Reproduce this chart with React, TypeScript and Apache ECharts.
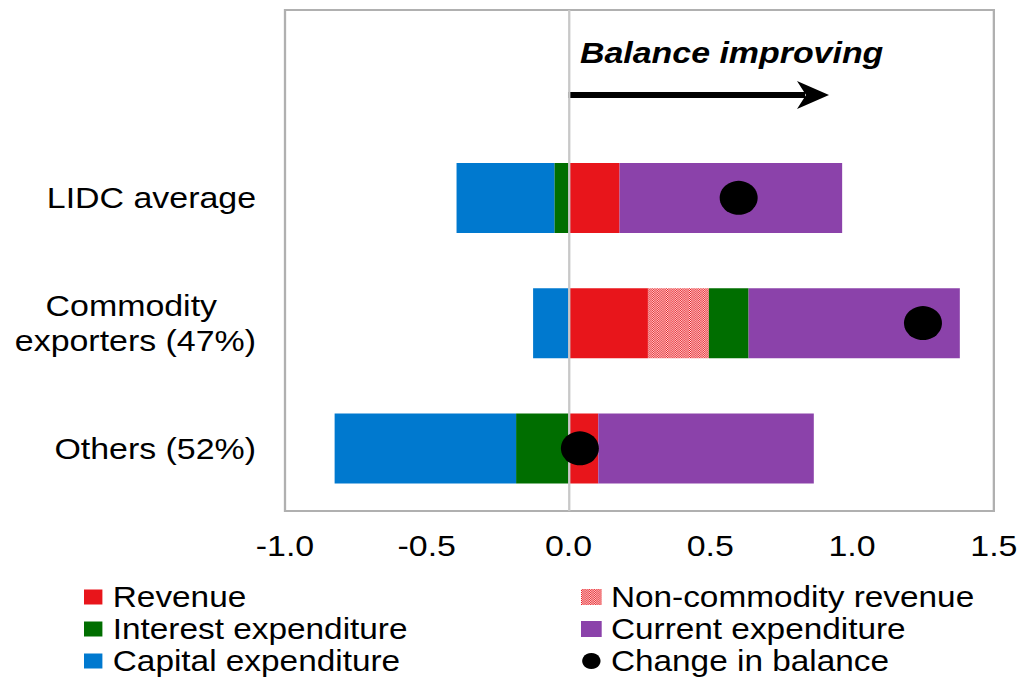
import React, { useEffect, useRef } from "react";
import * as echarts from "echarts";

// Categories (first row left empty to hold the "Balance improving" arrow)
const categories = ["", "LIDC average", "Commodity\nexporters (47%)", "Others (52%)"];

// Contributions to the change in the fiscal balance (percent of GDP)
const revenue = [null, 0.18, 0.28, 0.105];
const nonCommodityRevenue = [null, 0, 0.215, 0];
const interestExpenditure = [null, -0.05, 0.14, -0.185];
const currentExpenditure = [null, 0.785, 0.745, 0.76];
const capitalExpenditure = [null, -0.345, -0.125, -0.64];
const changeInBalance = [null, 0.6, 1.25, 0.04];

// Value axis ticks
const xMin = -1.0;
const xMax = 1.5;
const xStep = 0.5;

const W = 1034;
const H = 678;
// Horizontal stretch applied to the whole figure
const SX = 1.15;
const px = (x: number) => x / SX;

const FONT = "'Liberation Sans', Arial, Helvetica, sans-serif";
const FS = 29.5;
const LEGEND_FS = 29;

const RED = "#e8151b";
const GREEN = "#006e00";
const PURPLE = "#8b42aa";
const BLUE = "#0079cf";

function makeHatch(): HTMLCanvasElement {
  const c = document.createElement("canvas");
  c.width = 4;
  c.height = 4;
  const ctx = c.getContext("2d")!;
  ctx.fillStyle = RED;
  ctx.fillRect(0, 0, 4, 4);
  ctx.fillStyle = "rgba(255,255,255,0.9)";
  for (let i = 0; i < 4; i++) {
    ctx.fillRect(i, i, 1, 1);
    ctx.fillRect((i + 2) % 4, i, 1, 1);
  }
  return c;
}

// Multi-line category labels: lines are centred on each other inside a right-aligned block
function categoryLabel(value: string): string {
  const lines = value.split("\n");
  if (lines.length < 2) return value;
  return lines.map((l, i) => `{${i === 0 ? "short" : "long"}|${l}}`).join("\n");
}

export default function App() {
  const ref = useRef<HTMLDivElement>(null);

  useEffect(() => {
    if (!ref.current) return;
    const chart = echarts.init(ref.current, undefined, { renderer: "svg" });
    const hatch = { image: makeHatch(), repeat: "repeat" } as any;

    const barBase = {
      type: "bar" as const,
      stack: "total",
      barWidth: 70,
      emphasis: { disabled: true },
    };

    const legendText = { fontSize: LEGEND_FS, color: "#000", fontFamily: FONT, lineHeight: 32 };
    const catText = { fontSize: FS, color: "#000", fontFamily: FONT, lineHeight: 35 };

    const option: any = {
      animation: false,
      textStyle: { fontFamily: FONT },
      grid: {
        left: px(285),
        right: px(W - 994),
        top: 10,
        bottom: H - 511,
        show: true,
        borderColor: "#b0b0b0",
        borderWidth: 2,
        containLabel: false,
        outerBoundsMode: "none",
      },
      xAxis: {
        type: "value",
        min: xMin,
        max: xMax,
        interval: xStep,
        axisLine: { show: false },
        axisTick: { show: false },
        splitLine: { show: false },
        axisLabel: {
          fontSize: FS,
          color: "#000",
          fontFamily: FONT,
          margin: 20,
          formatter: (v: number) => v.toFixed(1),
        },
      },
      yAxis: {
        type: "category",
        inverse: true,
        data: categories,
        axisLine: { show: false },
        axisTick: { show: false },
        splitLine: { show: false },
        axisLabel: {
          ...catText,
          margin: px(29),
          align: "right",
          formatter: categoryLabel,
          rich: {
            short: { ...catText, padding: [0, px(39), 0, 0] },
            long: { ...catText },
          },
        },
      },
      legend: [
        {
          left: px(84),
          top: 581,
          height: 100,
          padding: 0,
          orient: "vertical",
          selectedMode: false,
          itemWidth: 16,
          itemHeight: 15,
          itemGap: 0,
          data: [
            { name: "Revenue", icon: "rect" },
            { name: "Interest expenditure", icon: "rect" },
            { name: "Capital expenditure", icon: "rect" },
          ],
          textStyle: { ...legendText, padding: [0, 0, 0, 4] },
        },
        {
          left: px(581),
          top: 581,
          height: 100,
          padding: 0,
          orient: "vertical",
          selectedMode: false,
          itemWidth: 18,
          itemHeight: 16,
          itemGap: 0,
          data: [
            { name: "Non-commodity revenue", icon: "rect" },
            { name: "Current expenditure", icon: "rect" },
            { name: "Change in balance", icon: "circle", itemStyle: { color: "#000", opacity: 1 } },
          ],
          textStyle: { ...legendText, padding: [0, 0, 0, 3] },
        },
      ],
      graphic: [
        {
          type: "text",
          left: px(580),
          top: 38,
          style: {
            text: "Balance improving",
            fontSize: FS,
            fontWeight: "bold",
            fontStyle: "italic",
            fontFamily: FONT,
            fill: "#000",
          },
        },
        {
          type: "line",
          shape: { x1: px(568), y1: 95, x2: px(805), y2: 95 },
          style: { stroke: "#000", lineWidth: 6 },
        },
        {
          type: "polygon",
          shape: {
            points: [
              [px(797), 81],
              [px(829), 95],
              [px(797), 109],
              [px(806), 95],
            ],
          },
          style: { fill: "#000" },
        },
      ],
      series: [
        {
          ...barBase,
          name: "Revenue",
          data: revenue,
          itemStyle: { color: RED },
          markLine: {
            silent: true,
            symbol: "none",
            label: { show: false },
            lineStyle: { color: "#c8c8c8", type: "solid", width: 2 },
            data: [{ xAxis: 0 }],
          },
        },
        { ...barBase, name: "Non-commodity revenue", data: nonCommodityRevenue, itemStyle: { color: hatch } },
        { ...barBase, name: "Interest expenditure", data: interestExpenditure, itemStyle: { color: GREEN } },
        { ...barBase, name: "Current expenditure", data: currentExpenditure, itemStyle: { color: PURPLE } },
        { ...barBase, name: "Capital expenditure", data: capitalExpenditure, itemStyle: { color: BLUE } },
        {
          type: "scatter",
          name: "Change in balance",
          z: 5,
          symbol: "circle",
          symbolSize: [px(38), 34],
          itemStyle: { color: "#000", opacity: 1 },
          emphasis: { disabled: true },
          data: changeInBalance
            .map((v, i) => (v == null ? null : [v, i]))
            .filter((d) => d != null),
        },
      ],
    };

    chart.setOption(option);
    return () => chart.dispose();
  }, []);

  return (
    <div
      style={{
        position: "absolute",
        left: 0,
        top: 0,
        width: W,
        height: H,
        overflow: "hidden",
        background: "#fff",
      }}
    >
      <div
        ref={ref}
        style={{
          width: W / SX,
          height: H,
          transform: `scaleX(${SX})`,
          transformOrigin: "0 0",
        }}
      />
    </div>
  );
}
